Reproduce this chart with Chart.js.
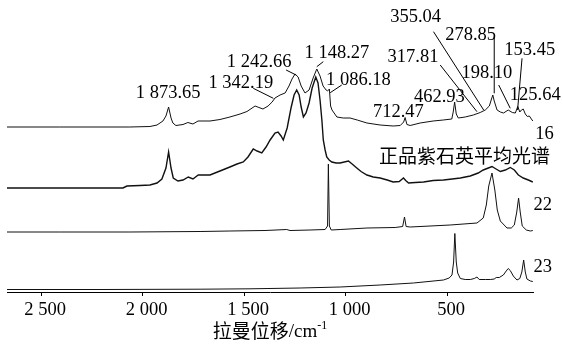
<!DOCTYPE html>
<html>
<head>
<meta charset="utf-8">
<script src="https://cdn.jsdelivr.net/npm/chart.js@4.4.0/dist/chart.umd.min.js"></script>
<style>
  html, body { margin: 0; padding: 0; background: #fff; }
</style>
</head>
<body>
<canvas id="chart" width="563" height="344"></canvas>
<script>
// Raman shift (cm-1) and relative intensity
const wn16  = [2669,2408,2210,2063,1964,1929,1900,1885,1872,1860,1851,1836,1801,1777,1752,1727,1668,1619,1570,1520,1486,1446,1427,1407,1382,1362,1348,1323,1298,1279,1264,1249,1234,1219,1200,1180,1160,1142,1126,1111,1096,1089,1080,1074,1067,1043,1012,978,943,895,830,766,731,714,707,698,682,633,569,519,477,470,463,455,445,411,371,337,312,292,283,275,268,254,238,222,199,179,164,152,142,134,125,115,105,95,85,78];
const int16 = [0,0,0,0,0.5,2,6,11,20,9,4,1.5,2.5,4.5,3,6,6,7.5,10,13,15.5,21,19.5,18,21,25,29,32,34,41,48,53,50,41,34,37,49,58,51,41,37,36,38,21,17,10,9,9,7,4,2,1,1.5,5,9.5,2.5,1.5,4,6,7,8,15,25,13,9,10,12,14.5,17,21,27,32,26,17,15,14,17,14.5,14,20.5,15,17,18,13,10.5,11,8,6];

const wnAvg  = [2669,2408,2210,2097,2077,2013,1964,1929,1905,1885,1872,1860,1849,1826,1801,1775,1752,1726,1668,1619,1570,1535,1504,1481,1455,1436,1413,1392,1372,1348,1333,1318,1307,1288,1269,1254,1241,1229,1219,1208,1195,1180,1165,1147,1136,1126,1117,1110,1101,1093,1081,1068,1047,1027,1007,986,968,945,924,895,864,830,795,766,736,715,704,690,657,616,569,518,475,435,386,347,322,297,279,263,238,213,189,169,149,125,100,78];
const intAvg = [0,0,0,0,2,2.5,3,5,9,20,36,20,10,7,8,11,9,13,13,17,21,24,26,31,39,37,35,41,48,55,56,52,48,60,80,93,98,93,81,71,75,85,100,111,105,88,68,48,38,31,28,26,25,25,26,27,24,20,16.5,13,11,10,8,6,6.5,10,7.5,5,5.5,6,7.5,8,9,10,12,15,18,20,21.5,19.5,16.5,18,20.5,18,13,10,8,6];

const wn22  = [2669,2408,2063,1717,1570,1397,1290,1274,1175,1101,1089,1085,1080,1071,1027,895,756,719,710,702,682,485,353,322,307,295,279,265,253,238,205,184,169,157,148,140,130,110,90,78];
const int22 = [0,0,0,0.5,1,1.5,2.5,1.5,2,2.5,6,68,6,2,2.5,4,4.5,5.5,15,5.5,5,7,9,14,27,46,59,42,22,11,4,4,7,20,34,20,6,2,1,1.5];

const wn23  = [2669,2210,1717,1471,1224,1027,830,666,518,490,476,468,462,455,448,435,411,386,366,353,342,312,287,268,258,243,223,209,199,189,174,156,142,132,123,115,107,90,78];
const int23 = [0,0,0.3,0.7,1.5,2.5,4.5,6.5,9.5,11.5,14.5,27.5,56,27.5,16.5,11,10,10,11,12.5,10,10,10,10.5,12,12,14.5,18.5,21,19,13.5,9.5,11,17.5,29.5,17.5,10.5,8.5,8];

const seriesNames = ['16', '正品紫石英平均光谱', '22', '23'];

// assigned peak positions (label text) of sample 16
const peakLabels = ['1 873.65','1 342.19','1 242.66','1 148.27','1 086.18',
                    '712.47','462.93','317.81','355.04','278.85','153.45','198.10','125.64'];

const xTicks = [500, 1000, 1500, 2000, 2500];

// vertical offsets that stack the spectra
const offsets = [165, 104, 60, 2.5];

const serif = '"Liberation Serif", "Times New Roman", serif';
const cjk = '"Noto Sans CJK SC", sans-serif';

// where each peak label sits (data coords) and leader lines [x1,y1,x2,y2]
const labelPos = [[1874,193.7],[1516,203.7],[1426,225.3],[1043,233.7],[937,207],
                  [740,175.3],[538,190.3],[668,230.3],[655,270.3],[384,252],[93,237],[304,213.7],[66,192]];
const leaders = [[1455,203.7,1356,193.7],[1293,222,1244,217],[1110,230.3,1142,225.3],[1019,207,1076,199.3],
                 [534,227,353,180.3],[567,260.3,320,182],[268,255.3,268,198.7],[131,233.7,153,182],[246,207,189,183.7]];
const namePos = [[66,152.7,'left','alphabetic'],[836,136,'left','middle'],[74,82,'left','alphabetic'],[74,19.7,'left','alphabetic']];

function toPoints(xs, ys, off) {
  return xs.map((x, i) => ({ x: x, y: ys[i] + off }));
}

const fmtTick = v => v >= 1000
  ? Math.floor(v / 1000) + ' ' + String(v % 1000).padStart(3, '0')
  : String(v);

// labels, leader lines and axis title
const notesPlugin = {
  id: 'notes',
  afterDatasetsDraw(chart) {
    const ctx = chart.ctx;
    const xs = chart.scales.x, ys = chart.scales.y;
    ctx.save();
    ctx.strokeStyle = '#000';
    ctx.lineWidth = 1;
    leaders.forEach(l => {
      ctx.beginPath();
      ctx.moveTo(xs.getPixelForValue(l[0]), ys.getPixelForValue(l[1]));
      ctx.lineTo(xs.getPixelForValue(l[2]), ys.getPixelForValue(l[3]));
      ctx.stroke();
    });
    ctx.fillStyle = '#000';
    ctx.font = '18.5px ' + serif;
    ctx.textAlign = 'center';
    ctx.textBaseline = 'alphabetic';
    peakLabels.forEach((t, i) => {
      ctx.fillText(t, xs.getPixelForValue(labelPos[i][0]), ys.getPixelForValue(labelPos[i][1]));
    });

    seriesNames.forEach((n, i) => {
      const p = namePos[i];
      ctx.font = (i === 1 ? '19px ' + cjk : '18.5px ' + serif);
      ctx.textAlign = p[2];
      ctx.textBaseline = p[3];
      ctx.fillText(n, xs.getPixelForValue(p[0]), ys.getPixelForValue(p[1]));
    });

    // x title: 拉曼位移/cm-1 with superscript
    const a = chart.chartArea;
    const cx = (a.left + a.right) / 2, by = 338;
    ctx.textAlign = 'left';
    ctx.textBaseline = 'alphabetic';
    ctx.font = '19px ' + cjk;
    const w1 = ctx.measureText('拉曼位移').width;
    ctx.font = '19px ' + serif;
    const w2 = ctx.measureText('/cm').width;
    ctx.font = '12px ' + serif;
    const w3 = ctx.measureText('-1').width;
    let x0 = cx - (w1 + w2 + w3) / 2;
    ctx.font = '19px ' + cjk;
    ctx.fillText('拉曼位移', x0, by);
    ctx.font = '19px ' + serif;
    ctx.fillText('/cm', x0 + w1, by - 1);
    ctx.font = '12px ' + serif;
    ctx.fillText('-1', x0 + w1 + w2, by - 9);
    ctx.restore();
  }
};

const spectra = [[wn16, int16, 1], [wnAvg, intAvg, 1.4], [wn22, int22, 1], [wn23, int23, 1]];

new Chart(document.getElementById('chart').getContext('2d'), {
  type: 'scatter',
  data: {
    datasets: spectra.map((s, i) => ({
      label: seriesNames[i],
      data: toPoints(s[0], s[1], offsets[i]),
      showLine: true,
      borderColor: '#111',
      borderWidth: s[2],
      pointRadius: 0,
      tension: 0,
      fill: false
    }))
  },
  options: {
    responsive: false,
    animation: false,
    layout: { padding: { left: 7, right: 30, top: 0, bottom: 0 } },
    plugins: { legend: { display: false }, tooltip: { enabled: false } },
    scales: {
      x: {
        type: 'linear',
        reverse: true,
        min: 77,
        max: 2668,
        afterBuildTicks: s => { s.ticks = xTicks.map(v => ({ value: v })); },
        afterFit: s => { s.height = 52; },
        grid: { display: true, drawOnChartArea: false, drawTicks: true, tickLength: 4, color: '#000', lineWidth: 1 },
        border: { display: true, color: '#000', width: 1 },
        ticks: {
          autoSkip: false,
          maxRotation: 0,
          padding: 3,
          labelOffset: 4,
          color: '#000',
          font: { family: serif, size: 18.5 },
          callback: fmtTick
        }
      },
      y: { display: false, min: 0, max: 292 }
    }
  },
  plugins: [notesPlugin]
});
</script>
</body>
</html>
